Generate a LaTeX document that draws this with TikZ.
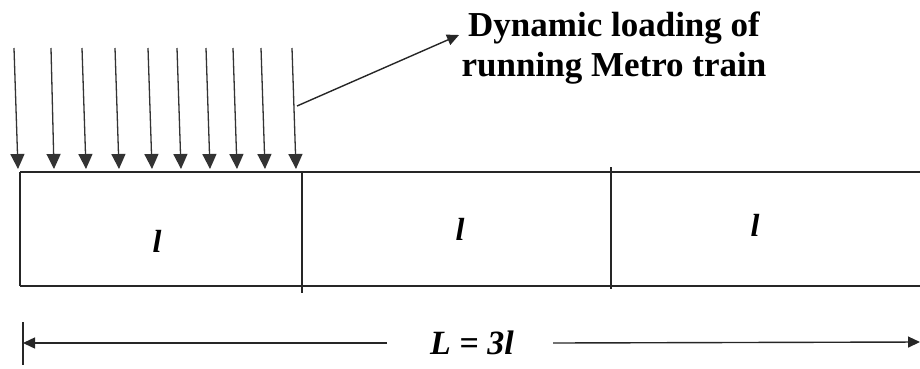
\documentclass[tikz,border=0pt]{standalone}
\usepackage{fontspec}
\setmainfont{Liberation Serif}
\usetikzlibrary{arrows.meta}
\begin{document}
\begin{tikzpicture}[x=1pt,y=-1pt,
  beamline/.style={line width=1.6pt,draw=black!85},
  loadarrow/.style={line width=1.3pt,draw=black!80,-{Triangle[length=15pt,width=14pt]}},
  dimarrow/.style={line width=1.4pt,draw=black!85,-{Triangle[length=12pt,width=11pt]}},
  spanlabel/.style={font=\fontsize{32}{32}\selectfont\bfseries\itshape,inner sep=0pt},
  titletext/.style={font=\fontsize{35}{40}\selectfont\bfseries,align=center,inner sep=0pt}]
\useasboundingbox (0,0) rectangle (920,368);
% beam
\coordinate (tl) at (20,172);
\coordinate (tr) at (920,172);
\coordinate (bl) at (20,286);
\coordinate (br) at (920,286);
\draw[beamline] (tl) -- (tr);
\draw[beamline] (bl) -- (br);
\draw[beamline] (tl) -- (bl);
\coordinate (d1t) at (302,172);
\coordinate (d1b) at (302,293);
\coordinate (d2t) at (611,167);
\coordinate (d2b) at (611,289);
\draw[beamline] (d1t) -- (d1b);
\draw[beamline] (d2t) -- (d2b);
% span labels
\node[spanlabel] (l1) at (157,241) {l};
\node[spanlabel] (l2) at (460,229) {l};
\node[spanlabel] (l3) at (755,225) {l};
% loads
\foreach \i/\xt/\xb in {1/14/18,2/51/54,3/82/86,4/115/119,5/148/152,6/177/181,7/206/210,8/233/237,9/261/265,10/292/296}{
  \coordinate (lt\i) at (\xt,48);
  \coordinate (lb\i) at (\xb,169);
  \draw[loadarrow] (lt\i) -- (lb\i);
}
% title and leader
\node[titletext] (title) at (614,48) {Dynamic loading of\\running Metro train};
\coordinate (leadstart) at (297,106);
\coordinate (leadtip) at (459,35);
\draw[dimarrow] (leadstart) -- (leadtip);
% dimension
\coordinate (tickt) at (23,322);
\coordinate (tickb) at (23,365);
\draw[line width=1.4pt,draw=black!85] (tickt) -- (tickb);
\node[font=\fontsize{34}{34}\selectfont\bfseries\itshape,inner sep=0pt] (Ldim) at (472,343) {L = 3l};
\coordinate (dimleft) at (23,343);
\coordinate (dimright) at (920,342);
\coordinate (dimlend) at (387,343);
\coordinate (dimrstart) at (553,343);
\draw[dimarrow] (dimlend) -- (dimleft);
\draw[dimarrow] (dimrstart) -- (dimright);
\end{tikzpicture}
\end{document}
